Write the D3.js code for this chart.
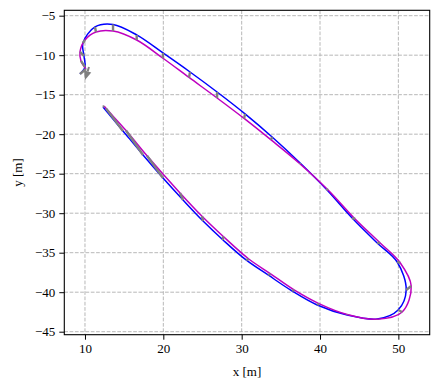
<!DOCTYPE html>
<html>
<head>
<meta charset="utf-8">
<script src="https://cdn.jsdelivr.net/npm/d3@7"></script>
<style>
  html, body { margin: 0; padding: 0; background: #fff; }
  svg text { font-family: "Liberation Serif", "DejaVu Serif", serif; fill: #000; }
</style>
</head>
<body>
<svg id="chart" width="443" height="388"></svg>
<script>
// ---- data (x, y in metres), time-matched samples ----
const blueX = [12.30,14.85,17.41,19.96,22.52,25.07,27.62,30.56,33.37,36.44,39.64,43.47,47.30,49.97,51.00,49.85,47.30,44.10,40.78,37.46,33.89,30.43,26.86,23.41,19.96,16.60,13.58,11.28,9.74,9.87,10.00,9.36];
const blueY = [-16.56,-19.59,-22.63,-25.54,-28.33,-30.99,-33.39,-35.92,-37.82,-39.85,-41.62,-42.89,-43.39,-42.25,-39.72,-36.18,-33.77,-30.61,-26.94,-23.65,-20.36,-17.43,-14.66,-12.13,-9.72,-7.44,-6.11,-6.43,-8.46,-10.10,-11.49,-12.38];
const magX = [12.45,12.68,15.24,17.92,22.13,24.94,27.62,30.91,33.69,36.69,39.86,43.47,47.30,50.49,51.64,50.23,47.68,44.48,41.03,37.46,33.75,30.31,26.86,23.28,19.96,16.60,13.58,11.40,10.00,9.36,9.49,10.13];
const magY = [-16.43,-16.73,-19.53,-22.73,-27.44,-30.39,-32.92,-35.80,-37.67,-39.71,-41.44,-42.82,-43.43,-42.51,-39.22,-36.27,-33.77,-30.73,-27.06,-23.77,-20.73,-18.01,-15.42,-12.82,-10.39,-8.08,-6.94,-7.06,-8.08,-9.59,-10.73,-11.75];
const arrowTail = [10.51, -11.49];
const arrowTip = [10.00, -13.14];
const xTicks = [10, 20, 30, 40, 50];
const yTicks = [-45, -40, -35, -30, -25, -20, -15, -10, -5];
const xLabel = "x [m]";
const yLabel = "y [m]";

// ---- layout ----
const L = 64.3, R = 429.7, T = 10.3, B = 334.7;
const x = d3.scaleLinear().domain([7.36, 54.0]).range([L, R]);
const y = d3.scaleLinear().domain([-45.38, -4.32]).range([B, T]);
const svg = d3.select("#chart");

// grid
const grid = svg.append("g").attr("stroke", "#b0b0b0").attr("stroke-width", 0.9).attr("stroke-dasharray", "3.7,1.6");
grid.selectAll(".gx").data(xTicks).join("line")
  .attr("x1", d => x(d)).attr("x2", d => x(d)).attr("y1", T).attr("y2", B);
grid.selectAll(".gy").data(yTicks).join("line")
  .attr("y1", d => y(d)).attr("y2", d => y(d)).attr("x1", L).attr("x2", R);

const blue = blueX.map((v, i) => [v, blueY[i]]);
const mag = magX.map((v, i) => [v, magY[i]]);
const line = d3.line().x(d => x(d[0])).y(d => y(d[1])).curve(d3.curveCatmullRom.alpha(0.5));

svg.append("path").attr("d", line(blue)).attr("fill", "none").attr("stroke", "#0000ff").attr("stroke-width", 1.5);
svg.append("path").attr("d", line(mag)).attr("fill", "none").attr("stroke", "#bf00bf").attr("stroke-width", 1.5);

// connectors
svg.append("g").selectAll("line").data(d3.range(blue.length)).join("line")
  .attr("x1", i => x(blue[i][0])).attr("y1", i => y(blue[i][1]))
  .attr("x2", i => x(mag[i][0])).attr("y2", i => y(mag[i][1]))
  .attr("stroke", "#808080").attr("stroke-width", 2.4);

// arrow
{
  const tx = x(arrowTail[0]), ty = y(arrowTail[1]);
  const hx = x(arrowTip[0]), hy = y(arrowTip[1]);
  const dx = hx - tx, dy = hy - ty, len = Math.hypot(dx, dy);
  const ux = dx / len, uy = dy / len, px = -uy, py = ux;
  const hl = 9, hw = 3.8;
  const bx = hx - ux * hl, by = hy - uy * hl;
  svg.append("line").attr("x1", tx).attr("y1", ty).attr("x2", bx).attr("y2", by)
    .attr("stroke", "#808080").attr("stroke-width", 2);
  svg.append("path")
    .attr("d", `M${hx},${hy}L${bx + px * hw},${by + py * hw}L${bx - px * hw},${by - py * hw}Z`)
    .attr("fill", "#808080");
}

// frame
svg.append("rect").attr("x", L).attr("y", T).attr("width", R - L).attr("height", B - T)
  .attr("fill", "none").attr("stroke", "#000").attr("stroke-width", 1.1);

// axes
const fmt = d => (d < 0 ? "\u2212" + Math.abs(d) : String(d));
const xa = svg.append("g").attr("transform", `translate(0,${B})`)
  .call(d3.axisBottom(x).tickValues(xTicks).tickSize(5).tickSizeOuter(0).tickPadding(4).tickFormat(fmt));
const ya = svg.append("g").attr("transform", `translate(${L},0)`)
  .call(d3.axisLeft(y).tickValues(yTicks).tickSize(5).tickSizeOuter(0).tickPadding(4).tickFormat(fmt));
[xa, ya].forEach(a => {
  a.attr("font-family", null);
  a.select(".domain").remove();
  a.selectAll(".tick line").attr("stroke", "#000").attr("stroke-width", 1);
  a.selectAll(".tick text").attr("font-size", 13);
});

svg.append("text").attr("x", (L + R) / 2).attr("y", 376).attr("text-anchor", "middle")
  .attr("font-size", 13).text(xLabel);
svg.append("text").attr("transform", `translate(22,${(T + B) / 2}) rotate(-90)`)
  .attr("text-anchor", "middle").attr("font-size", 13).text(yLabel);
</script>
</body>
</html>
